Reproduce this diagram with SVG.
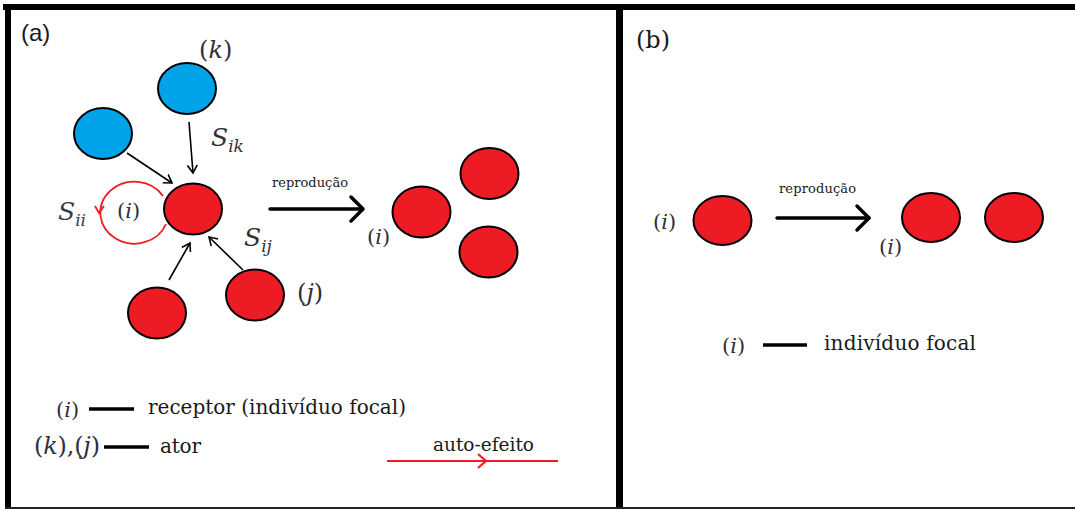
<svg xmlns="http://www.w3.org/2000/svg" width="1075" height="510" viewBox="0 0 1075 510">
<defs>
<style>
.blue{fill:#00A2E8;stroke:#000;stroke-width:2}
.red{fill:#ED1C24;stroke:#000;stroke-width:2}
.conn{stroke:#000;stroke-width:1.6;fill:none}
.big{stroke:#000;stroke-width:3.5;fill:none;stroke-linecap:round;stroke-linejoin:round}
</style>
<marker id="chev" markerUnits="userSpaceOnUse" markerWidth="12" markerHeight="12" refX="8" refY="5" orient="auto" viewBox="0 0 12 10">
<path d="M0,0 L8,5 L0,10" fill="none" stroke="#000" stroke-width="1.6"/>
</marker>
</defs>
<rect width="1075" height="510" fill="#fff"/>
<g id="frame">
<rect x="3" y="4" width="1072" height="6" fill="#000"/>
<rect x="5" y="4" width="6" height="505" fill="#000"/>
<rect x="616" y="4" width="7" height="505" fill="#000"/>
<rect x="5" y="507" width="1070" height="2" fill="#222"/>
</g>
<g id="connectors">
<line class="conn" x1="189" y1="122" x2="193" y2="173" marker-end="url(#chev)"/>
<line class="conn" x1="127" y1="153" x2="172" y2="183" marker-end="url(#chev)"/>
<line class="conn" x1="169" y1="280" x2="190" y2="243" marker-end="url(#chev)"/>
<line class="conn" x1="243" y1="270" x2="209" y2="237" marker-end="url(#chev)"/>
<path d="M163,196 A34,31 0 1 0 166,224" fill="none" stroke="#ED1C24" stroke-width="1.8"/>
<polyline points="95,206 99,213 104,206" fill="none" stroke="#ED1C24" stroke-width="1.8"/>
<g class="big">
<line x1="270" y1="209" x2="362" y2="209"/>
<polyline points="351,197 363,209 351,221"/>
<line x1="777" y1="218" x2="869" y2="218"/>
<polyline points="857,206 869,218 857,230"/>
</g>
</g>
<g id="node-k"><ellipse class="blue" cx="187" cy="88.5" rx="29" ry="25.5"/></g>
<g id="node-blue2"><ellipse class="blue" cx="103" cy="133.5" rx="29" ry="25.5"/></g>
<g id="node-i"><ellipse class="red" cx="193" cy="209" rx="29" ry="25.5"/></g>
<g id="node-red-bl"><ellipse class="red" cx="157" cy="313" rx="29" ry="25.5"/></g>
<g id="node-j"><ellipse class="red" cx="255" cy="295" rx="29" ry="25.5"/></g>
<g id="node-off1"><ellipse class="red" cx="421.5" cy="212" rx="29" ry="25.5"/></g>
<g id="node-off2"><ellipse class="red" cx="489.5" cy="173.5" rx="29" ry="25.5"/></g>
<g id="node-off3"><ellipse class="red" cx="488.5" cy="252" rx="29" ry="25.5"/></g>
<g id="node-b-i"><ellipse class="red" cx="722.5" cy="220.5" rx="29" ry="24.5"/></g>
<g id="node-b-off1"><ellipse class="red" cx="931" cy="217.5" rx="29" ry="24.5"/></g>
<g id="node-b-off2"><ellipse class="red" cx="1014" cy="217.5" rx="29" ry="24.5"/></g>
<g id="labels" font-family="DejaVu Serif, Liberation Serif, serif" fill="#2f2f3a">
<text x="21" y="41" font-size="24" font-family="Liberation Sans, Arial, sans-serif" fill="#1a1a1a">(a)</text>
<text x="636" y="48" font-size="24" fill="#1a1a1a">(b)</text>
<text x="199" y="58" font-size="24">(<tspan font-style="italic">k</tspan>)</text>
<text x="211" y="146" font-size="25" font-style="italic">S<tspan font-size="17" dy="6">ik</tspan></text>
<text x="244" y="246" font-size="25" font-style="italic">S<tspan font-size="17" dy="6">ij</tspan></text>
<text x="58" y="220" font-size="25" font-style="italic" fill="#3a3a4a">S<tspan font-size="17" dy="6">ii</tspan></text>
<text x="117" y="218" font-size="21">(<tspan font-style="italic">i</tspan>)</text>
<text x="297" y="301" font-size="24">(<tspan font-style="italic">j</tspan>)</text>
<text x="367" y="244" font-size="21">(<tspan font-style="italic">i</tspan>)</text>
<text x="272" y="187" font-size="13" fill="#1a1a1a" textLength="76">reprodução</text>
<text x="779" y="193" font-size="13" fill="#1a1a1a" textLength="77">reprodução</text>
<text x="653" y="229" font-size="21">(<tspan font-style="italic">i</tspan>)</text>
<text x="879" y="254" font-size="21">(<tspan font-style="italic">i</tspan>)</text>
</g>
<g id="legend-a" font-family="DejaVu Serif, Liberation Serif, serif" fill="#1a1a1a">
<text x="56" y="417" font-size="21" fill="#2f2f3a">(<tspan font-style="italic">i</tspan>)</text>
<line x1="89" y1="409" x2="134" y2="409" stroke="#000" stroke-width="3.5"/>
<text x="148" y="414" font-size="20" textLength="258">receptor (indivíduo focal)</text>
<text x="34" y="454" font-size="24" fill="#2f2f3a" textLength="66">(<tspan font-style="italic">k</tspan>),(<tspan font-style="italic">j</tspan>)</text>
<line x1="104" y1="447" x2="149" y2="447" stroke="#000" stroke-width="3.5"/>
<text x="160" y="453" font-size="20" textLength="41">ator</text>
<text x="433" y="451" font-size="18.5" textLength="101">auto-efeito</text>
<line x1="387" y1="461" x2="558" y2="461" stroke="#ED1C24" stroke-width="2.2"/>
<polyline points="478,454 486,461 478,468" fill="none" stroke="#ED1C24" stroke-width="2.2"/>
</g>
<g id="legend-b" font-family="DejaVu Serif, Liberation Serif, serif" fill="#1a1a1a">
<text x="722" y="353" font-size="21" fill="#2f2f3a">(<tspan font-style="italic">i</tspan>)</text>
<line x1="763" y1="345" x2="807" y2="345" stroke="#000" stroke-width="3.5"/>
<text x="824" y="350" font-size="20" textLength="152">indivíduo focal</text>
</g>
</svg>
